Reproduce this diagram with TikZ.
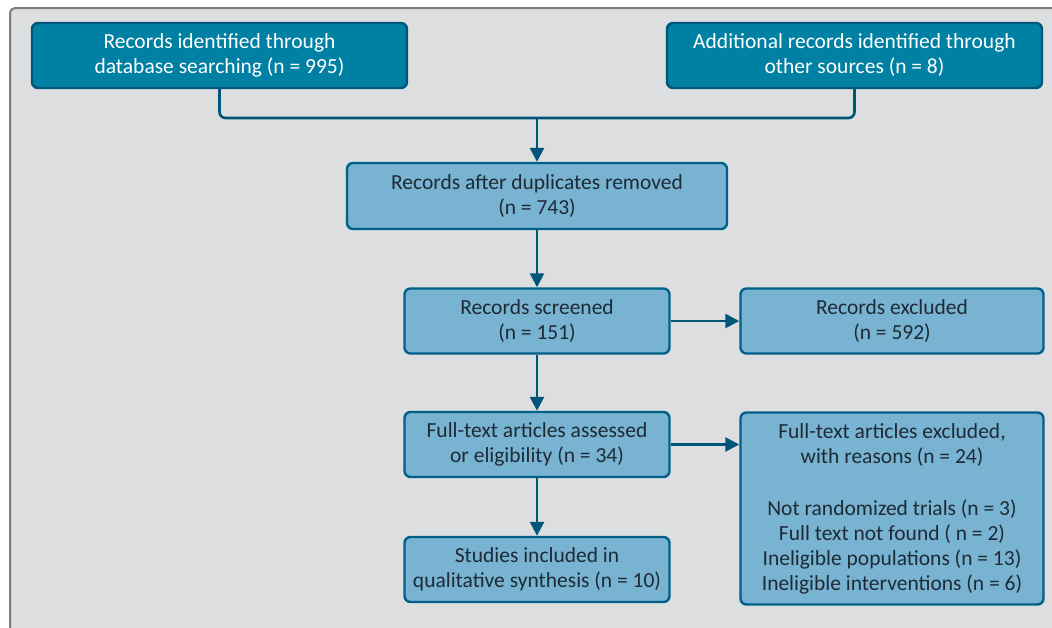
\documentclass[tikz,border=0pt]{standalone}
\usepackage{fontspec}
\setmainfont{Carlito}
\usepackage{tikz}
\usetikzlibrary{arrows.meta}
\definecolor{panelgray}{RGB}{221,222,224}
\definecolor{framegray}{RGB}{125,125,125}
\definecolor{darkteal}{RGB}{0,128,163}
\definecolor{darkedge}{RGB}{0,86,120}
\definecolor{lightblue}{RGB}{120,179,209}
\definecolor{lightedge}{RGB}{0,96,135}
\definecolor{textdark}{RGB}{30,42,54}

\begin{document}
\begin{tikzpicture}[x=1pt, y=-1pt,
    box/.style={draw=lightedge, fill=lightblue, line width=2.4pt, rounded corners=6pt,
      align=center, text=textdark, inner sep=0pt, font=\fontsize{21.5}{25}\selectfont},
    topbox/.style={box, draw=darkedge, fill=darkteal, text=white},
    link/.style={draw=darkedge, line width=2.6pt},
    arrow/.style={link, -{Triangle[length=14pt,width=14pt]}}]
\useasboundingbox (0,0) rectangle (1052,627);
\fill[panelgray, rounded corners=5pt] (10,8) rectangle (1080,660);
\draw[framegray, line width=2pt, rounded corners=5pt] (10,660) -- (10,8) -- (1080,8);

\node[topbox, minimum width=375pt, minimum height=65pt] (ident) at (219.5,55.5)
  {Records identified through\\database searching (n = 995)};
\node[topbox, minimum width=375pt, minimum height=65pt] (other) at (854.5,55.5)
  {Additional records identified through\\other sources (n = 8)};
\node[box, minimum width=380pt, minimum height=66pt] (dedup) at (537,196)
  {Records after duplicates removed\\(n = 743)};
\node[box, minimum width=265pt, minimum height=65pt] (screen) at (537,321)
  {Records screened\\(n = 151)};
\node[box, minimum width=303pt, minimum height=65pt] (excl) at (892,321)
  {Records excluded\\(n = 592)};
\node[box, minimum width=265pt, minimum height=65pt] (full) at (537,444.5)
  {Full-text articles assessed\\or eligibility (n = 34)};
\node[box, minimum width=303pt, minimum height=192pt] (fullex) at (892,508.5)
  {Full-text articles excluded,\\with reasons (n = 24)\\[27pt]
   Not randomized trials (n = 3)\\Full text not found ( n = 2)\\
   Ineligible populations (n = 13)\\Ineligible interventions (n = 6)};
\node[box, minimum width=265pt, minimum height=65pt] (incl) at (537,569.5)
  {Studies included in\\qualitative synthesis (n = 10)};

\coordinate (join) at (537,118);
\draw[link, rounded corners=6pt] (ident.south) |- (other.south |- join) -- (other.south);
\draw[arrow] (join) -- (dedup.north);
\draw[arrow] (dedup.south) -- (screen.north);
\draw[arrow] (screen.east) -- (excl.west);
\draw[arrow] (screen.south) -- (full.north);
\draw[arrow] (full.east) -- (full.east -| fullex.west);
\draw[arrow] (full.south) -- (incl.north);
\end{tikzpicture}
\end{document}
